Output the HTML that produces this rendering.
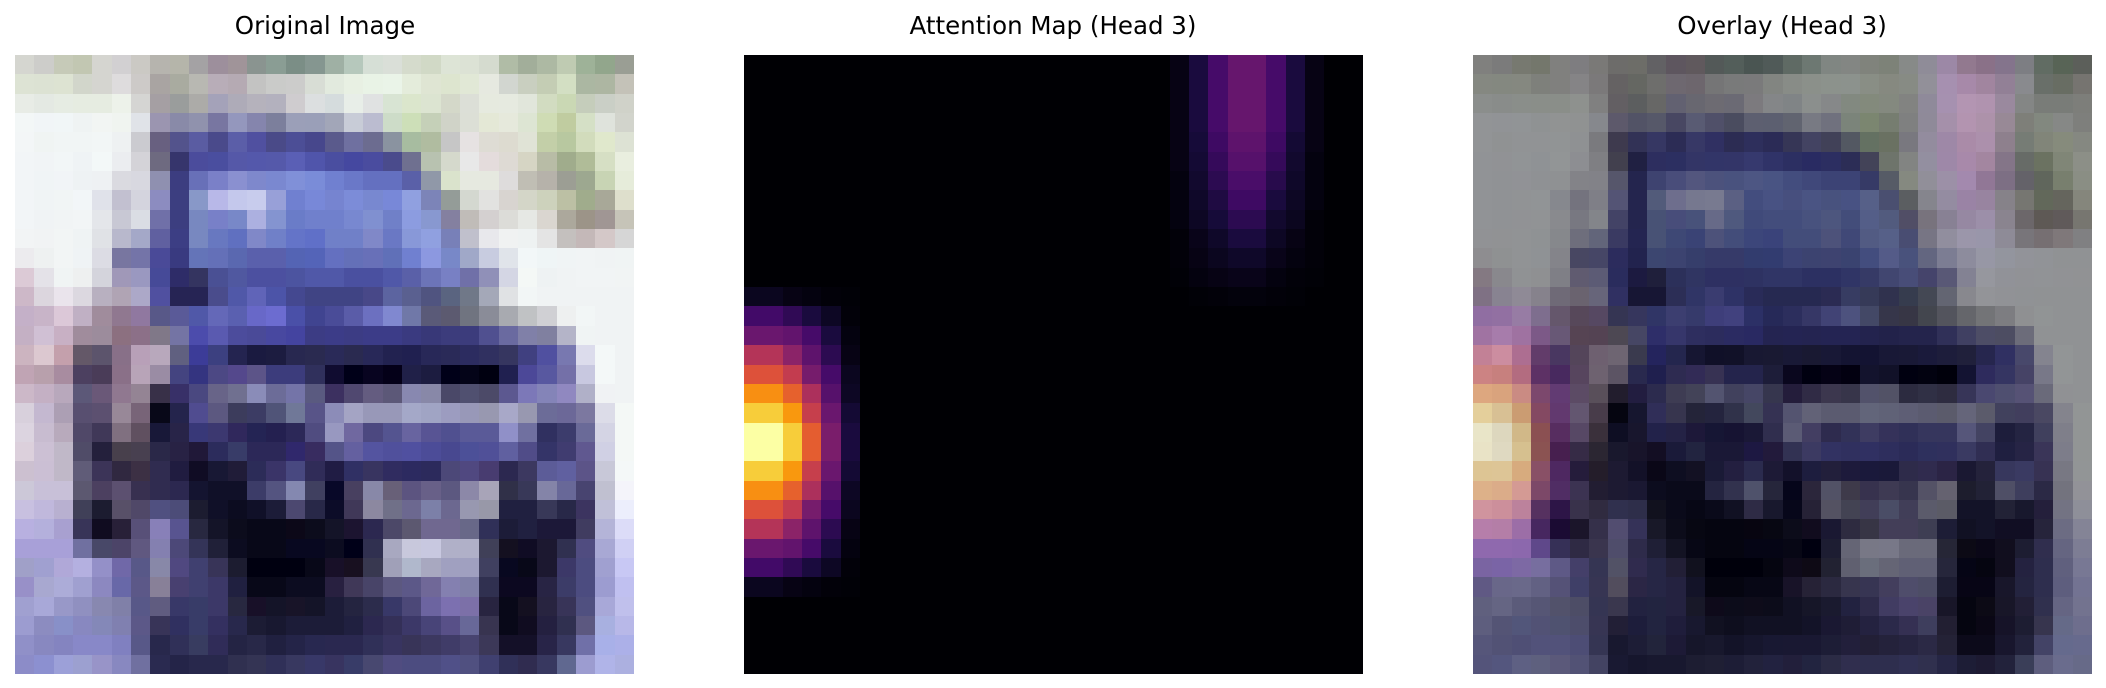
<!DOCTYPE html>
<html><head><meta charset="utf-8">
<style>
html,body{margin:0;padding:0;background:#fff;}
svg{display:block;}
text{font-family:"DejaVu Sans","Liberation Sans",sans-serif;font-size:24.5px;fill:#000;}
</style></head>
<body>
<svg id="fig" width="2106" height="688" viewBox="0 0 2106 688" shape-rendering="crispEdges">
  <text x="325" y="34" text-anchor="middle">Original Image</text>
  <text x="1053" y="34" text-anchor="middle">Attention Map (Head 3)</text>
  <text x="1782" y="34" text-anchor="middle">Overlay (Head 3)</text>
  <g id="p1"></g>
  <g id="p2"></g>
  <g id="p3"></g>
</svg>
<script>
// image pixels: left part (cols 0..22) and right part (cols 23..31)
const imgLeft = [
"d5d6d0 cdcdca c6cab8 c2c7b2 d5d5d0 d2d0d2 cbc9c4 b6b4ae b5b5aa a4a2a4 9d8f9c a09499 8a9490 8a9d94 7b8e86 859690 9fb0a4 b6c8bc d6dfd6 dadfd8 d5dbcc d1d9c6 dde4d6",
"dde3d4 dce2d3 dde3d2 d2d6cb d5d5d0 dedcdd cdcac8 a9a4a2 a9aba0 b8b8b2 b8adb8 b5aab3 c3c3c2 cacbc9 cccccb d8ddd5 e2eade e8f0e3 e9f3e6 eaf4e8 e4ecdb dfe5d3 dde5cf",
"e8ece6 e4e9e3 e6ece3 e6ece1 e6ece1 edf2ea d5d5d3 a59fa3 9a9d9c acaba8 a4a2b9 aeabb8 b5b2bc b3b1be cfcccf dcdfe0 d5dcdd e8eee8 e0e2e2 d8e4d3 dbe6cc dce4d1 d4d8c9",
"f3f7f7 f1f5f7 f1f6f7 eff3f3 f2f5f3 f0f4f0 e0e3e8 9b95b0 898aa8 9092ad 7876a1 9497bd 8585ad 7c7f9c 9b9fb8 9a9fb8 a2a6b8 c8ccd7 bbbcd0 cddcc8 cddfb8 c5d0b8 d0d3c8",
"f3f6f7 f0f4f3 f1f5f5 f1f5f5 f2f6f6 eef1f2 cbcbd0 686080 53538c 5a5ca2 4a4a8b 5b5ea8 5050a0 4a4a88 4c4e96 47478c 5a5a8c 6f70a0 6c6c90 8a93a0 a7bca0 b0bca0 c6c6c6",
"f2f5f7 f1f4f6 f2f6f7 eff3f5 f3f8f8 ebedf0 d4d3d8 6e6a80 36356c 4b4c9c 4a4e9f 5558a8 5458ab 5559aa 5a5fb5 5055ab 4a4ea0 4548a0 4a4c9f 4a4b8c 6f7090 b8c2b0 d5d9cc",
"f2f5f7 f0f4f6 f1f4f7 eef2f4 eef1f3 dadae0 d8d8e0 8f90b0 3c3d80 6870b8 7a80c8 8a90d0 7e88cc 7a88d0 8090d8 7a8cd8 7080d0 6a78c8 6470c0 6470c0 5a60a8 9098a8 dae3cc",
"f2f5f7 f0f4f5 f1f5f5 f2f6f8 e0e2ea c2c0d0 d4d4de 8c8cc0 3c3e80 8898c8 b8b8e8 c4c8ec c8cced 98a0d8 7080d0 7888d8 7684d0 7c8cd8 7888d0 7888d8 90a0e0 7c84b8 949c98",
"f2f5f7 f0f3f5 f1f4f5 f2f5f6 e4e6ea c8c8d4 dadde4 7070a8 3c3e80 7888c0 7880c8 7888c8 acb0e0 8494d0 6a7cc8 7080cc 7080cc 7888d0 8090d0 7080c8 8c9ce0 8898d0 8480a0",
"f2f4f5 f1f3f4 f2f5f5 eff3f4 e0e2e6 b8b8cc a4a8c8 6060a0 3c3e84 7888c0 6878c0 6070c0 8088c8 7080c8 6474c8 6070c8 7080c8 7080c8 8088c8 6a78c4 8898d8 90a0e0 7880b8",
"ecebee eef1f1 f2f5f5 eff3f5 dcdce4 7876a0 7474a8 4a4a98 393a80 6474b8 6470b8 5a68b0 5a60ac 5a60ac 5464b4 5464b8 6470c0 6470b8 6870b8 6070b8 7080d0 8c98e0 7888c8",
"dccad6 e4e2e8 f0f4f4 eef0f0 d4d4dc a098b8 9a98c0 464a98 2e2c68 343460 4a5094 5058a0 4c50a0 4c50a0 4c54a0 5058a8 5058a8 4a50a0 4a50a0 5058a8 5a60a8 6c74b8 7880c4",
"cdb8c8 dcd6de eae4ec dcd8e0 b8b0c0 b0a4b4 aca8c8 5050a0 262454 262454 4a4c8c 5058a8 6064b8 4c54a8 444890 404484 404484 404484 484888 5c64a0 5a6090 505480 5a6480",
"c4b0c8 c8b4c8 dcc8d8 c0b0c4 a08c9c 907890 9078a0 585888 5a5a98 5058a8 6468b8 5a60b0 6868c8 6c6cd0 4a50a8 404490 4a4c98 5a5ca8 6c70c0 8088d0 7078a8 5a5a78 5c5a70",
"c4b0c4 d0c0d4 c8b0c4 a08c9c 9c8c9c 8c7080 8c7088 807888 7474a4 4c4cac 5a5ab0 4c4c9c 4a4a98 4848a0 4444a0 3c3c84 3c3c88 3c3c84 3c3c88 3c3c88 3a3a80 383878 3c3c7c",
"ccb4c0 dcc8d0 c4a0ac 645868 5c546c 887088 b8a0b8 b8a8bc 606080 3c3c98 3c4080 242450 1a1a40 1c1c40 282850 2a2a50 2a2a58 2a2a50 282858 222250 202050 282858 2a2a58",
"c0a4b4 b8a0ac a88ca0 4c4060 4a3c58 8a7088 b8a4b8 9a8ca4 444480 343480 4c4884 54488c 5c5488 3c3c7c 3c3c7c 30305c 100c30 000018 080420 040018 202048 1c1c40 000018",
"ccb8c8 c4b0c4 b8a8bc 5c5878 6a5878 907890 948494 383048 383068 4a4880 686488 707090 8a8cb8 6c6c98 7474a8 5a5a80 3c3060 504870 645c80 5c5878 8888b0 8888a8 4a4868",
"d8d0dc c4b8d0 ac9fb4 584f70 5c5070 988898 786478 080818 24244c 504c90 5c5880 3c3c5c 3c3c64 505478 707898 585488 8c8cb8 a4a4c4 9898b8 9898b8 a4a8c8 a0a4c4 9c9cc0",
"dcd4e0 c8bcd0 b8aabc 504868 403858 807080 605060 181838 282448 383878 3c3870 30285c 242454 242050 2c2858 504c80 9898c0 7068a0 4c4880 545490 6864a0 585494 505090",
"dcd0dc ccc0d4 c0b8c8 504c68 24203c 48404c 484050 2a2848 282244 201838 2c2c5c 383c68 2c2858 2c2858 30286c 382c60 545488 6460a0 5454a0 50509c 5050a0 4c4c98 484890",
"ccc0d0 cbbfd4 c0b8c8 605c78 3c3458 302840 3c3044 302c50 201c40 100c24 181834 201c38 2c2c58 3a3468 484880 302c58 201c44 303064 383460 302c60 2c2a60 2c2a5c 4c4878",
"ccc8d8 c8c0d8 c8c0d8 5c5870 4c4060 5c5070 383050 302c50 2c2850 141430 101028 101028 3c3c68 545480 8488b0 404060 080828 484060 8888a8 686078 5c5480 686088 5c5880",
"c8c0e0 c0b8dc b8b0d0 404058 1c1c30 585068 504868 505080 4c4c78 1c1c30 101028 0c0c20 101028 1c1c38 4c4870 282848 0c0c28 403858 8c88a0 707088 6c6890 7c80a8 6c6890",
"b8b0e0 b4b0dc a8a0d0 383458 100c20 282038 585078 8880b8 585490 282840 141428 0c0c1c 080818 080818 0c0818 0c0c1c 141428 1c1430 2c2850 4c4868 5c5870 706890 706890",
"a8a0d8 a8a0d8 a8a0d8 7070a0 484868 4c4468 605880 8480b0 4c4878 343458 202038 0c0c20 080818 080818 080820 080820 0c0c20 000018 303050 a8a8c0 c8c8dc c8c8e0 b0b0c8",
"a0a0c8 a0a0d0 b0a8d8 b4b0e0 9490c8 7068a8 585888 8888a8 504880 404070 383458 1c1c30 000010 000010 000010 080818 181028 181020 383850 a0a0b8 b0b8cc a8a8c0 a0a0c0",
"9890c8 a8a8d0 acacd8 a0a0d0 8c88c0 6868a8 5c5888 888098 484070 404070 3c3868 202040 080818 080818 0c0c20 0c0c20 282040 403858 484468 5c5880 5c5888 706898 8480b0",
"a0a0d0 a8a8d8 9898c8 9090c0 8888b0 8080a8 585888 605c80 383868 383c68 3c3868 282840 181028 141428 181428 141428 1c1c38 242440 2c2c4c 383868 4c4878 6c64a0 7c70b0",
"9c9cd0 8c8cc0 8890c8 8888c0 8488b8 8080b0 5c5888 383458 303060 383c68 343060 28284c 1c1c34 181830 1c1c38 1c1c38 1c1c38 202040 2c2850 343058 3c3868 484478 585088",
"9090c8 8888c0 8484c0 8888c8 8888c8 8080c0 585888 28284c 303058 383c60 302c58 242444 282848 202040 242448 282850 2a2850 2a2850 303058 383460 383458 3c3860 403c68",
"8c8cc8 8c90d0 9ca0d8 9ca0d0 9894c8 8888c0 7070a0 2a2a50 242448 28284c 28284c 303050 343454 303058 383860 383868 383460 383c68 484870 504c80 4c4c80 4c4c80 505088"
];
const imgRight = [
"dce2d5 d5dbcf b0bca6 a2ae9a adb9a3 bfcbb2 9eb298 92a68c 9a9e94",
"e1e8d6 e6e9e0 d2d6d0 c9cfc0 c4cdb4 d3dfc3 abb7a2 adb6a2 c4c2b8",
"dcdfd7 e6eadf e6eae0 e1e6db d2dcc1 cad8b4 c5cdbb cacfc6 d0d2c9",
"dcdfd6 e4e8d6 e6e9dc dde5d3 cfdcb4 c0cca0 d5e0c6 dfe3dc d2d4cc",
"e6e2e2 dedcd4 dddbd0 e0e3d6 c3cfa8 b8c8a0 d2dcbc e0e8cc dde2d4",
"e8e8e8 e4dcdc dedad4 d6d5c4 b8bca6 a0ac8c b0bc98 d6dfc4 e9eedf",
"e6e9e0 e6e9e0 dedcdc c0beb4 b6b2aa 9c9e94 9da890 c8d4b4 e6ecda",
"d4d8d0 e2e2e0 d8d4d0 d4d6c8 cdd2bc bcc0a4 a0ac8c a8a898 dedfcc",
"c0bcb8 d4d0d0 dcdcd8 e6e8e4 dad6d0 aca89c 9c9488 a09694 c6c4b8",
"c0c0cc e8e8ec f0f2f2 eef2f2 e4e4e4 c4c0be c4b8b8 d4c8c8 d6d6d6",
"a0a8c8 c8cce0 e0e4ea f2f7f8 eff5f6 f0f4f5 f1f4f5 f0f3f4 f0f4f4",
"7070a8 9090b8 d4d6e4 f4f8f6 eef2f3 f0f3f4 f1f4f5 f1f4f5 f1f4f4",
"707888 a4a8b8 e0e2e4 f2f6f6 f0f3f4 f0f3f4 f0f3f4 f0f3f4 f0f3f4",
"707480 8a8c98 a8aab0 c0c2c4 d0d0d4 eef0f0 f2f6f6 f0f3f4 f0f3f4",
"3c3c7c 505090 6a6aa0 8080a8 8080a0 b4b4c8 f0f4f4 f0f3f4 f0f3f4",
"2c2c60 303060 363660 404080 5050a0 7878b0 dcdcec f4f8f8 f0f3f4",
"040418 000010 202050 4c4898 5858a0 7470a8 c8c8e0 f4f8f8 f0f3f4",
"505070 4c4a68 5c5890 7c78b8 8484b8 9088c0 b0b0c8 f0f2f4 f0f3f4",
"9898b8 9898b0 a8a8c8 9898b0 6c6c98 6c6898 7c78a0 dcdce8 f4f8f6",
"5a5a98 5a5a98 9090c8 7070a0 303060 3c3c6c 6a6a98 d4d4e4 f4f8f6",
"4c5098 505098 6060a0 504c88 343468 403c70 605890 d0d0e4 f4f8f6",
"504880 483c70 2c2850 3c3860 5c5c98 6060a0 5c5488 c8c8d8 f4f8f8",
"8c88a8 a8a4b8 303048 383858 8484a8 686898 484470 c0c0d0 f4f4fa",
"9898b0 9898a8 202040 202040 383858 282848 3c3460 c0c0d8 eceefc",
"686888 303058 1c1c38 202040 1c1838 1c1838 403c60 b4b4d8 dcdcf8",
"b0b0c8 404058 141020 100c24 1c1830 303050 504c80 a8a8d4 d0d0f4",
"a0a0c0 404060 080820 080818 1c1830 3c3868 4c4c80 a0a0d0 c8c8f4",
"8080a8 303050 0c0820 0c0820 282444 3c3c68 4c4c80 9c9cd0 c0c0f0",
"7c70a8 282440 080818 141020 282440 383458 505080 a8a8d8 c0c0ec",
"686898 383450 080818 100c20 242040 303050 5c5880 a8b0e0 b8b8e8",
"484470 3c3858 141028 141028 282448 383860 7070a8 a8b0e8 acb0e8",
"505080 404070 303058 302c50 383860 606890 9c9cd0 b0b4e8 acb0e0"
];
// attention blob near left edge: rows 12..27, cols 0..5
const leftBlobRow0 = 12, leftBlobCol0 = 0;
const leftBlob = [
[.05,.05,.03,.02,.01,.005],
[.2,.2,.16,.11,.06,.01],
[.3,.3,.28,.21,.11,.02],
[.48,.48,.38,.27,.15,.03],
[.6,.6,.52,.33,.21,.05],
[.75,.75,.64,.46,.25,.06],
[.88,.88,.77,.53,.3,.09],
[1,1,.88,.63,.34,.11],
[1,1,.88,.63,.34,.11],
[.88,.88,.77,.53,.3,.09],
[.75,.75,.64,.46,.25,.06],
[.6,.6,.52,.33,.21,.05],
[.48,.48,.38,.27,.15,.03],
[.3,.3,.28,.21,.11,.02],
[.2,.2,.16,.11,.06,.01],
[.05,.05,.03,.02,.01,.005]
];
// attention blob at top right: rows 0..12, cols 22..29
const topBlobRow0 = 0, topBlobCol0 = 22;
const topBlob = [
[.03,.11,.21,.29,.29,.21,.11,.03],
[.03,.11,.21,.29,.29,.21,.11,.03],
[.03,.11,.21,.29,.29,.21,.11,.03],
[.03,.11,.21,.29,.29,.21,.11,.03],
[.03,.1,.19,.27,.27,.19,.09,.03],
[.03,.09,.17,.25,.25,.17,.08,.02],
[.02,.08,.15,.22,.22,.14,.07,.02],
[.02,.07,.12,.19,.19,.11,.06,.02],
[.02,.06,.1,.15,.15,.08,.05,.01],
[.01,.04,.07,.11,.11,.06,.03,.01],
[.01,.03,.05,.07,.07,.04,.02,.01],
[.005,.02,.03,.04,.04,.02,.01,.005],
[0,.005,.01,.015,.015,.01,.005,0]
];
const INF = ["000004","160b39","420a68","6a176e","932667","bc3754","dd513a","f37819","fca50a","f6d746","fcffa4"];
function infernoRGB(v){
  v=Math.max(0,Math.min(1,v));
  const p=v*10, i=Math.min(9,Math.floor(p)), t=p-i;
  const a=INF[i], b=INF[i+1];
  let out=[];
  for(let k=0;k<3;k++){
    const x=parseInt(a.substr(k*2,2),16), y=parseInt(b.substr(k*2,2),16);
    out.push(x+(y-x)*t);
  }
  return out;
}
function hexRGB(h){return [0,1,2].map(k=>parseInt(h.substr(k*2,2),16));}
function css(c){return "rgb("+c.map(v=>Math.round(v)).join(",")+")";}
const N=32;
const image = imgLeft.map((r,i)=>r.split(" ").slice(0,23).concat(imgRight[i].split(" ")));
const att = [];
for(let r=0;r<N;r++){att.push(new Array(N).fill(0));}
leftBlob.forEach((row,i)=>row.forEach((v,j)=>{att[leftBlobRow0+i][leftBlobCol0+j]=v;}));
topBlob.forEach((row,i)=>row.forEach((v,j)=>{att[topBlobRow0+i][topBlobCol0+j]=v;}));

const NS="http://www.w3.org/2000/svg";
const SIZE=619, TOP=55;
const panelX=[15,744,1473];
function cellX(p,c){return Math.round(panelX[p]+c*SIZE/N);}
function cellY(r){return Math.round(TOP+r*SIZE/N);}
function rect(g,p,r,c,fill){
  const el=document.createElementNS(NS,"rect");
  const x0=cellX(p,c), x1=cellX(p,c+1), y0=cellY(r), y1=cellY(r+1);
  el.setAttribute("x",x0);el.setAttribute("y",y0);
  el.setAttribute("width",x1-x0);el.setAttribute("height",y1-y0);
  el.setAttribute("fill",fill);
  g.appendChild(el);
  return el;
}
const g1=document.getElementById("p1"),g2=document.getElementById("p2"),g3=document.getElementById("p3");
for(let r=0;r<N;r++)for(let c=0;c<N;c++){
  const im=hexRGB(image[r][c]), hm=infernoRGB(att[r][c]);
  const e1=rect(g1,0,r,c,css(im));
  
  
  const e2=rect(g2,1,r,c,css(hm));
  
  
  const bl=[0,1,2].map(k=>0.6*im[k]+0.4*hm[k]);
  const e3=rect(g3,2,r,c,css(bl));
  
  
}
</script>
</body></html>
